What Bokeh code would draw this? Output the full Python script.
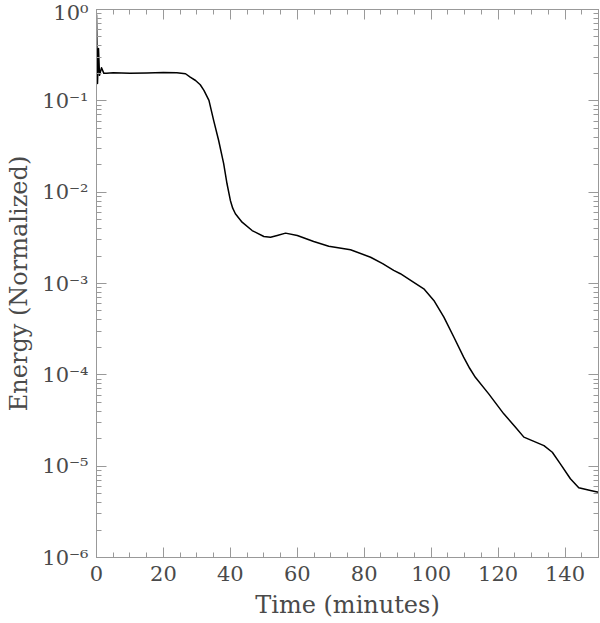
from bokeh.plotting import figure
from bokeh.models import (Range1d, LinearAxis, LogAxis, FixedTicker,
                          SingleIntervalTicker, CustomJSTickFormatter)
from bokeh.embed import file_html
from bokeh.resources import INLINE

# ---- data ----
time_min = [0.0, 0.3, 0.6, 0.9, 1.5, 2.2, 3.0, 5.0, 10.0, 15.0, 20.0, 24.0,
            26.6, 28.0, 29.6, 31.0, 32.1, 33.6, 35.0, 36.5, 38.0, 39.0, 40.0,
            40.7, 41.5, 43.5, 46.5, 50.0, 52.0, 54.0, 56.5, 60.0, 64.9, 69.4,
            75.9, 81.9, 85.5, 88.8, 90.8, 94.8, 97.8, 100.8, 103.8, 106.8,
            109.7, 111.5, 113.2, 117.2, 121.7, 125.2, 127.7, 130.7, 133.7,
            136.2, 138.6, 141.6, 144.1, 147.6, 150.0]
energy = [0.88, 0.155, 0.374, 0.19, 0.23, 0.20, 0.200, 0.203, 0.200, 0.202,
          0.204, 0.203,
          0.198, 0.1815, 0.167, 0.150, 0.130, 0.101, 0.061, 0.0368, 0.0205,
          0.01236, 0.00811, 0.00668, 0.0058, 0.00469, 0.0038, 0.00327,
          0.00321, 0.00336, 0.00356, 0.00336, 0.00288, 0.00256, 0.00234,
          0.00194, 0.00165, 0.00139, 0.00128, 0.00103, 0.000875, 0.000652,
          0.000428, 0.000258, 0.000156, 0.000118, 9.4e-5, 6.19e-5, 3.74e-5,
          2.67e-5, 2.08e-5, 1.87e-5, 1.68e-5, 1.42e-5, 1.06e-5, 7.28e-6,
          5.8e-6, 5.42e-6, 5.19e-6]

y_tick_values = [1e-6, 1e-5, 1e-4, 1e-3, 1e-2, 1e-1, 1e0]
y_tick_labels = ["10⁻⁶", "10⁻⁵", "10⁻⁴", "10⁻³", "10⁻²", "10⁻¹", "10⁰"]
y_minor_ticks = [m * d for d in [1e-6, 1e-5, 1e-4, 1e-3, 1e-2, 1e-1]
                 for m in range(2, 10)]

FONT = "DejaVu Serif"
TXT = "#4a4a4a"
AX = "#999999"

p = figure(width=600, height=623, y_axis_type="log",
           x_range=Range1d(0, 150), y_range=Range1d(1e-6, 1.0),
           output_backend="svg", toolbar_location=None,
           min_border_left=96, min_border_right=2, min_border_top=9,
           min_border_bottom=66)
p.grid.visible = False
p.outline_line_color = AX
p.background_fill_color = "white"
p.border_fill_color = "white"

p.line(time_min, energy, line_color="black", line_width=1.5,
       line_join="round")

ylab = CustomJSTickFormatter(
    args=dict(vals=y_tick_values, labs=y_tick_labels),
    code="""
    for (let i = 0; i < vals.length; i++) {
        if (Math.abs(Math.log10(vals[i]) - Math.log10(tick)) < 1e-6) return labs[i];
    }
    return '';
    """)
blank = CustomJSTickFormatter(code="return '';")

yticker = FixedTicker(ticks=y_tick_values, minor_ticks=y_minor_ticks)
xticker = SingleIntervalTicker(interval=20, num_minor_ticks=4)


def style(ax):
    ax.axis_line_color = AX
    ax.major_tick_line_color = AX
    ax.minor_tick_line_color = AX
    ax.major_tick_in = 10
    ax.major_tick_out = 0
    ax.minor_tick_in = 5
    ax.minor_tick_out = 0
    ax.major_label_text_font = FONT
    ax.major_label_text_color = TXT
    ax.axis_label_text_font = FONT
    ax.axis_label_text_color = TXT
    ax.axis_label_text_font_style = "normal"


xa = p.xaxis[0]
xa.ticker = xticker
style(xa)
xa.major_label_text_font_size = "21px"
xa.major_label_standoff = 8
xa.axis_label = "Time (minutes)"
xa.axis_label_text_font_size = "24px"
xa.axis_label_standoff = 7

ya = p.yaxis[0]
ya.ticker = yticker
ya.formatter = ylab
style(ya)
ya.major_label_text_font_size = "21px"
ya.major_label_standoff = 8
ya.axis_label = "Energy (Normalized)"
ya.axis_label_text_font_size = "24px"
ya.axis_label_standoff = 6

top = LinearAxis(ticker=xticker, formatter=blank)
style(top)
top.major_label_text_font_size = "0px"
top.major_label_standoff = 0
p.add_layout(top, "above")

right = LogAxis(ticker=yticker, formatter=blank)
style(right)
right.major_label_text_font_size = "0px"
right.major_label_standoff = 0
p.add_layout(right, "right")

open("out.html", "w").write(file_html(p, INLINE))
